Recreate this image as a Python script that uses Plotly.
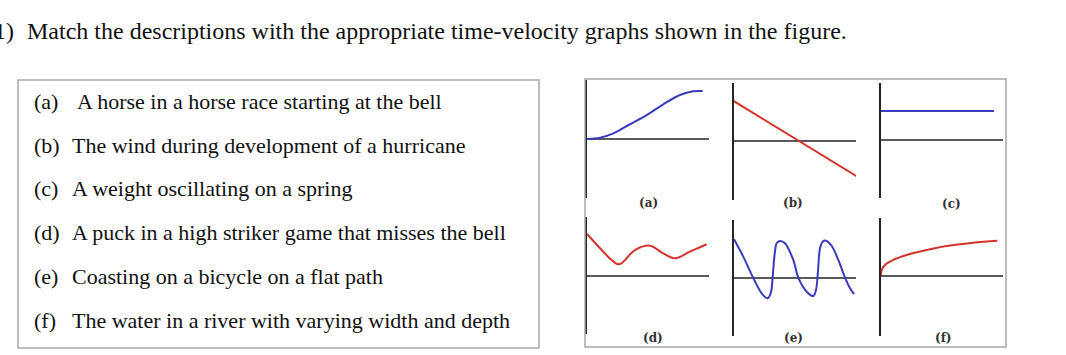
import plotly.graph_objects as go

W, H = 1066, 355

# ---------------- text content ----------------
TITLE_NUM = "1)"
TITLE = "Match the descriptions with the appropriate time-velocity graphs shown in the figure."
ITEM_LABELS = ["(a)", "(b)", "(c)", "(d)", "(e)", "(f)"]
ITEM_TEXTS = [
    "A horse in a horse race starting at the bell",
    "The wind during development of a hurricane",
    "A weight oscillating on a spring",
    "A puck in a high striker game that misses the bell",
    "Coasting on a bicycle on a flat path",
    "The water in a river with varying width and depth",
]
GRAPH_LABELS = ["(a)", "(b)", "(c)", "(d)", "(e)", "(f)"]

# ---------------- graph data (time t, velocity v) ----------------
a_t = [0, 1.07, 2.16, 3.52, 4.89, 6.25, 7.62, 8.71, 9.48]
a_v = [0, 0.11, 0.48, 1.25, 2.03, 2.94, 3.73, 4.04, 4.07]

b_t = [-0.16, 10.41]
b_v = [3.47, -3.22]

c_t = [0, 9.26]
c_v = [2.46, 2.46]

d_t = [0, 1.07, 2.02, 2.65, 3.93, 5.16, 6.25, 7.21, 8.44, 9.81]
d_v = [3.56, 2.35, 1.36, 0.99, 2.20, 2.57, 1.92, 1.50, 2.06, 2.69]

e_t = [0, 0.76, 1.58, 2.27, 2.73, 3.01, 3.17, 3.34, 3.50, 3.77, 4.18, 4.86, 5.27,
       5.96, 6.50, 6.72, 6.89, 7.05, 7.27, 7.54, 8.01, 8.55, 9.10, 9.51, 9.84]
e_v = [3.28, 1.81, 0.0, -1.30, -1.72, -1.30, 0.11, 2.09, 2.94, 3.14, 2.94, 1.53, 0.03,
       -1.16, -1.53, -1.02, 0.68, 2.52, 3.08, 3.16, 2.71, 1.53, 0.03, -0.87, -1.36]

f_t = [0, 0.06, 0.33, 1.01, 2.11, 3.47, 5.38, 7.57, 9.53]
f_v = [0, 0.51, 0.93, 1.36, 1.78, 2.14, 2.54, 2.82, 2.99]

SERIES_T = [a_t, b_t, c_t, d_t, e_t, f_t]
SERIES_V = [a_v, b_v, c_v, d_v, e_v, f_v]

# ---------------- styles / layout geometry (pixels) ----------------
BLUE = "rgb(58,58,188)"
RED = "rgb(212,52,44)"
COLORS = [BLUE, RED, BLUE, RED, BLUE, RED]
SHAPES_SPLINE = [True, False, False, True, True, True]

PX_T = 12.2   # pixels per time unit
PX_V = 11.8   # pixels per velocity unit
PANEL_W = 122
PANELS = [
    dict(left=587, top=80, bottom=198, zero=139, lx=648, ly=203),
    dict(left=734, top=83, bottom=200, zero=141, lx=793, ly=203),
    dict(left=881, top=83, bottom=198, zero=140, lx=951, ly=204),
    dict(left=587, top=217, bottom=334, zero=276, lx=653, ly=338),
    dict(left=734, top=220, bottom=336, zero=278, lx=793, ly=338),
    dict(left=881, top=218, bottom=336, zero=276, lx=943, ly=338),
]

SERIF = "Liberation Serif, Times New Roman, serif"
LABEL_FONT = "DejaVu Serif, serif"

fig = go.Figure()
layout = dict(
    width=W, height=H,
    margin=dict(l=0, r=0, t=0, b=0),
    paper_bgcolor="white", plot_bgcolor="rgba(0,0,0,0)",
    showlegend=False, hovermode=False,
    annotations=[], shapes=[],
)

for i, p in enumerate(PANELS):
    n = i + 1
    xa = "xaxis" if n == 1 else f"xaxis{n}"
    ya = "yaxis" if n == 1 else f"yaxis{n}"
    xr = "x" if n == 1 else f"x{n}"
    yr = "y" if n == 1 else f"y{n}"
    layout[xa] = dict(
        domain=[p["left"] / W, (p["left"] + PANEL_W) / W],
        range=[0, PANEL_W / PX_T], anchor=yr,
        showline=False, zeroline=False, showgrid=False,
        showticklabels=False, ticks="", fixedrange=True,
    )
    layout[ya] = dict(
        domain=[1 - p["bottom"] / H, 1 - p["top"] / H],
        range=[-(p["bottom"] - p["zero"]) / PX_V, (p["zero"] - p["top"]) / PX_V],
        anchor=xr,
        showline=True, linecolor="#262626", linewidth=1.6,
        zeroline=True, zerolinecolor="#5a5a5a", zerolinewidth=1.2,
        showgrid=False, showticklabels=False, ticks="", fixedrange=True,
    )
    fig.add_trace(go.Scatter(
        x=SERIES_T[i], y=SERIES_V[i], mode="lines",
        line=dict(color=COLORS[i], width=2,
                  shape="spline" if SHAPES_SPLINE[i] else "linear", smoothing=1.0),
        xaxis=xr, yaxis=yr, hoverinfo="skip",
    ))
    layout["annotations"].append(dict(
        text="<b>" + GRAPH_LABELS[i] + "</b>", xref="paper", yref="paper",
        x=p["lx"] / W, y=1 - p["ly"] / H, xanchor="center", yanchor="middle",
        showarrow=False, font=dict(family=LABEL_FONT, size=12, color="#333333"),
    ))

# frames
layout["shapes"].append(dict(type="rect", xref="paper", yref="paper",
                             x0=18 / W, x1=539 / W, y0=1 - 348 / H, y1=1 - 80 / H,
                             line=dict(color="#a8a8a8", width=1.5)))
layout["shapes"].append(dict(type="rect", xref="paper", yref="paper",
                             x0=585 / W, x1=1006 / W, y0=1 - 347 / H, y1=1 - 79 / H,
                             line=dict(color="#a8a8a8", width=1.5)))

# title
layout["annotations"].append(dict(
    text=TITLE_NUM, xref="paper", yref="paper", x=16 / W, y=1 - 31 / H,
    xanchor="right", yanchor="middle", showarrow=False,
    font=dict(family=SERIF, size=24, color="#111111")))
layout["annotations"].append(dict(
    text=TITLE, xref="paper", yref="paper", x=25 / W, y=1 - 31 / H,
    xanchor="left", yanchor="middle", showarrow=False,
    font=dict(family=SERIF, size=24, color="#111111")))

# list items
ITEM_Y = [101, 145, 189, 232, 276, 320]
for lab, txt, yy in zip(ITEM_LABELS, ITEM_TEXTS, ITEM_Y):
    layout["annotations"].append(dict(
        text=lab, xref="paper", yref="paper", x=32 / W, y=1 - yy / H,
        xanchor="left", yanchor="middle", showarrow=False,
        font=dict(family=SERIF, size=22, color="#111111")))
    layout["annotations"].append(dict(
        text=txt, xref="paper", yref="paper", x=(75 if lab == "(a)" else 70) / W, y=1 - yy / H,
        xanchor="left", yanchor="middle", showarrow=False,
        font=dict(family=SERIF, size=22, color="#111111")))

fig.update_layout(**layout)
fig.write_html("out.html", config=dict(displayModeBar=False, staticPlot=True),
               post_script="document.body.style.margin='0';document.body.style.overflow='hidden';")
